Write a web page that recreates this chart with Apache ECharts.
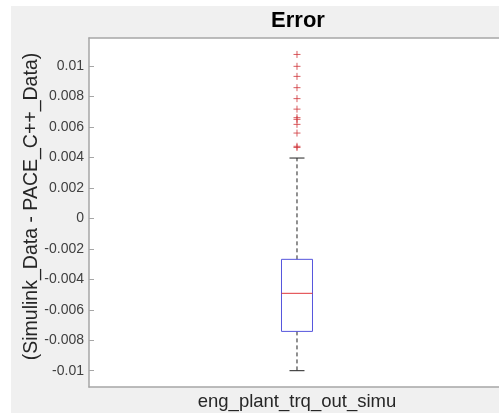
<!DOCTYPE html>
<html>
<head>
<meta charset="utf-8">
<title>Error</title>
<script src="https://cdn.jsdelivr.net/npm/echarts@6/dist/echarts.min.js"></script>
<style>
  html, body { margin: 0; padding: 0; background: #fff; }
  #bg { position: absolute; left: 11px; top: 6px; width: 488px; height: 407px; background: #f0f0f0; }
  #main { position: absolute; left: 0; top: 0; width: 499px; height: 413px; }
</style>
</head>
<body>
<div id="bg"></div>
<div id="main"></div>
<script>
// data
var categories = ['eng_plant_trq_out_simu'];
// [lower whisker, q1, median, q3, upper whisker]
var boxStats = [[-0.0100, -0.00742, -0.00492, -0.00269, 0.00396]];
var outliers = [0.01076, 0.00998, 0.00932, 0.00858, 0.00786, 0.00717, 0.00661, 0.00650, 0.00617, 0.00560, 0.00473, 0.00465];
var yTicks = [-0.01, -0.008, -0.006, -0.004, -0.002, 0, 0.002, 0.004, 0.006, 0.008, 0.01];
var yLabels = ['-0.01', '-0.008', '-0.006', '-0.004', '-0.002', '0', '0.002', '0.004', '0.006', '0.008', '0.01'];

var myChart = echarts.init(document.getElementById('main'));

//箱线图 (box drawn by hand so colours match)
function renderBox(params, api) {
  var x = api.value(0);
  var lo = api.coord([x, api.value(1)]);
  var q1 = api.coord([x, api.value(2)]);
  var med = api.coord([x, api.value(3)]);
  var q3 = api.coord([x, api.value(4)]);
  var hi = api.coord([x, api.value(5)]);
  var cx = lo[0];
  var halfBox = 15.5, halfCap = 7.5;
  var dashStyle = { stroke: '#222', lineWidth: 1, lineDash: [4, 3] };
  return {
    type: 'group',
    children: [
      { type: 'line', shape: { x1: cx, y1: q3[1], x2: cx, y2: hi[1] }, style: dashStyle },
      { type: 'line', shape: { x1: cx, y1: q1[1], x2: cx, y2: lo[1] }, style: dashStyle },
      { type: 'line', shape: { x1: cx - halfCap, y1: hi[1], x2: cx + halfCap, y2: hi[1] }, style: { stroke: '#222', lineWidth: 1 } },
      { type: 'line', shape: { x1: cx - halfCap, y1: lo[1], x2: cx + halfCap, y2: lo[1] }, style: { stroke: '#222', lineWidth: 1 } },
      { type: 'rect', shape: { x: cx - halfBox, y: q3[1], width: halfBox * 2, height: q1[1] - q3[1] },
        style: { fill: 'none', stroke: '#5555dd', lineWidth: 1 } },
      { type: 'line', shape: { x1: cx - halfBox, y1: med[1], x2: cx + halfBox, y2: med[1] }, style: { stroke: '#e0383c', lineWidth: 1 } }
    ]
  };
}

var axisGray = '#a6a6a6';

myChart.setOption({
  animation: false,
  title: {
    text: 'Error',
    left: 293,
    top: 5,
    textAlign: 'center',
    textStyle: { fontFamily: 'Liberation Sans', fontSize: 22, fontWeight: 'bold', color: '#000' }
  },
  grid: {
    left: 89, top: 38, right: 0, bottom: 26,
    show: true, backgroundColor: '#fff', borderWidth: 0
  },
  xAxis: [
    {
      // 箱子在右侧被截掉的坐标区里居中
      type: 'value',
      min: 0.5,
      max: 1.4856,
      axisLine: { show: true, onZero: false, lineStyle: { color: axisGray, width: 1.5 } },
      axisTick: { show: false },
      axisLabel: {
        fontFamily: 'Liberation Sans', fontSize: 18.5, color: '#262626', margin: 5,
        customValues: [1],
        formatter: function (v) { return categories[Math.round(v) - 1] || ''; }
      },
      splitLine: { show: false }
    },
    {
      type: 'value',
      position: 'top',
      min: 0.5,
      max: 1.4856,
      axisLine: { show: true, onZero: false, lineStyle: { color: axisGray, width: 1.5 } },
      axisTick: { show: false },
      axisLabel: { show: false },
      splitLine: { show: false }
    }
  ],
  yAxis: {
    type: 'value',
    min: -0.01107,
    max: 0.01184,
    name: '(Simulink_Data - PACE_C++_Data)',
    nameLocation: 'middle',
    nameGap: 47,
    nameMoveOverlap: false,
    nameTextStyle: { fontFamily: 'Liberation Sans', fontSize: 19.5, color: '#262626', padding: [0, 0, 0, 12] },
    axisLine: { show: true, lineStyle: { color: axisGray, width: 1.5 } },
    axisTick: { show: true, inside: true, length: 5, customValues: yTicks, lineStyle: { color: axisGray } },
    axisLabel: {
      fontFamily: 'Liberation Sans', fontSize: 14, color: '#404040', margin: 5,
      customValues: yTicks,
      formatter: function (v) {
        var i = yTicks.findIndex(function (t) { return Math.abs(t - v) < 1e-9; });
        return i >= 0 ? yLabels[i] : '';
      }
    },
    splitLine: { show: false }
  },
  series: [
    {
      type: 'custom',
      renderItem: renderBox,
      data: boxStats.map(function (s) { return [1].concat(s); }),
      encode: { x: 0, y: [1, 2, 3, 4, 5] },
      z: 2
    },
    {
      type: 'scatter',
      symbol: 'path://M0,-1L0,1M-1,0L1,0',
      symbolSize: 7,
      itemStyle: { color: 'none', borderColor: '#d0343a', borderWidth: 1 },
      data: outliers.map(function (v) { return [1, v]; }),
      z: 3
    }
  ]
});
</script>
</body>
</html>
